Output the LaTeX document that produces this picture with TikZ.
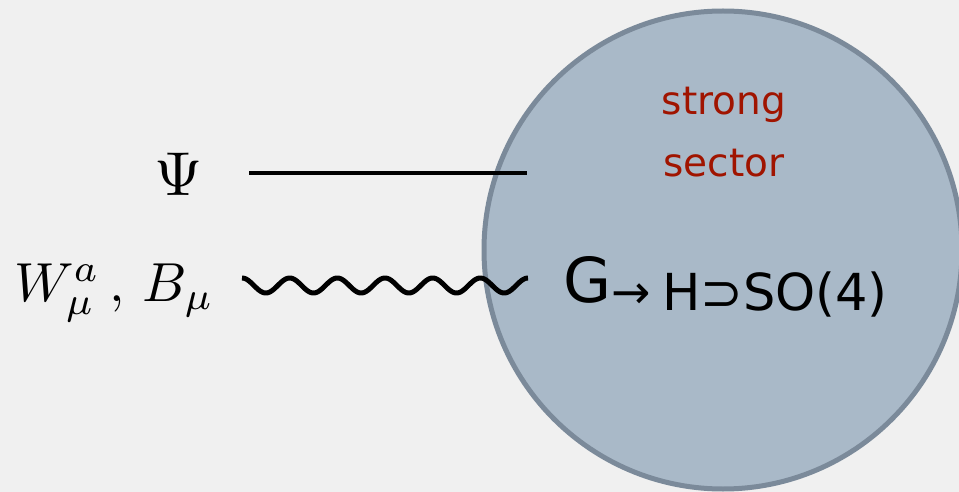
\documentclass[tikz,border=0pt]{standalone}
\usepackage{fontspec}
\newfontfamily\comic{DejaVu Sans}
\definecolor{bgc}{HTML}{F0F0F0}
\definecolor{circfill}{HTML}{A9B9C8}
\definecolor{circedge}{HTML}{7B8A9A}
\definecolor{sectorred}{HTML}{A01400}
\begin{document}
\begin{tikzpicture}[x=1pt,y=-1pt,
  lbl/.style={inner sep=0pt, outer sep=0pt},
  sectortxt/.style={lbl, anchor=base, text=sectorred, font=\comic\fontsize{39}{39}\selectfont},
  fermion/.style={line width=4.5pt, black},
  boson/.style={line width=5pt, black, line join=round}]
\useasboundingbox (0,0) rectangle (959,492);
\fill[bgc] (0,0) rectangle (959,492);
\clip (0,0) rectangle (959,492);
% strong sector blob
\node[circle, draw=circedge, fill=circfill, line width=5pt, minimum size=478pt, inner sep=0pt] (sector) at (723,250) {};
\node[sectortxt] (strong) at (724,115) {strong};
\node[sectortxt] (sectorlbl) at (724,177) {sector};
% symmetry breaking pattern
\node[lbl, anchor=base west, font=\comic\fontsize{62}{62}\selectfont] (G) at (563,302) {G};
\node[lbl, anchor=base west, font=\comic\fontsize{47}{47}\selectfont] (arr) at (611,308) {→};
\node[lbl, anchor=base west, font=\comic\fontsize{51}{51}\selectfont] (H) at (662,310) {H⊃SO(4)};
% fermion line
\node[lbl, anchor=center, scale=6.2] (psi) at (179,174) {$\Psi$};
\coordinate (psiL) at (249,173);
\coordinate (psiR) at (527,173);
\draw[fermion] (psiL) -- (psiR);
% gauge bosons
\node[lbl, anchor=base west, scale=5.5] (WB) at (14,301) {$W^a_\mu\,,\,B_\mu$};
\coordinate (wL) at (242,285.5);
\draw[boson] plot[domain=0:286, samples=240, smooth, variable=\t] ({242+\t},{285.5-7.5*cos(\t*7.552)});
\end{tikzpicture}
\end{document}
